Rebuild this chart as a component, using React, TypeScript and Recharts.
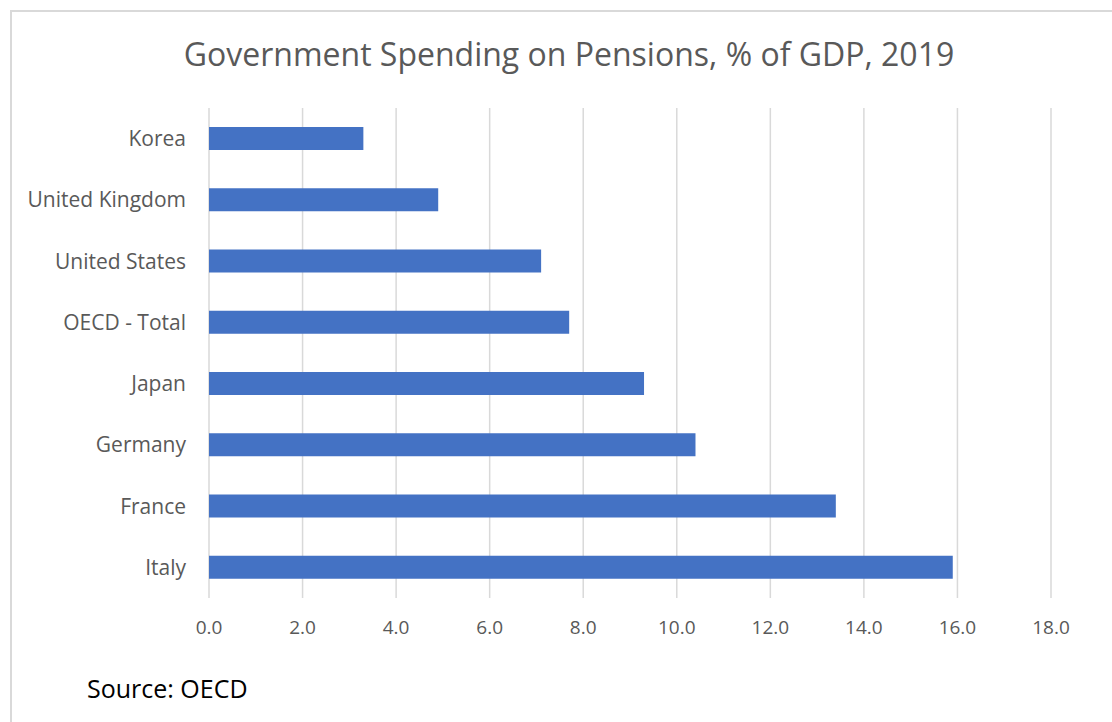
import { BarChart, Bar, XAxis, YAxis, CartesianGrid } from 'recharts';

const countries = ['Korea', 'United Kingdom', 'United States', 'OECD - Total', 'Japan', 'Germany', 'France', 'Italy'];
const spending = [3.3, 4.9, 7.1, 7.7, 9.3, 10.4, 13.4, 15.9];
const xTicks = [0, 2, 4, 6, 8, 10, 12, 14, 16, 18];

const data = countries.map((name, i) => ({ name, value: spending[i] }));

const App = () => {
  return (
    <div style={{ position: 'absolute', left: 0, top: 0, width: 1112, height: 722, background: '#fff', overflow: 'hidden' }}>
      <div style={{ position: 'absolute', left: 10, top: 10, width: 1200, height: 800, borderTop: '2px solid #d9d9d9', borderLeft: '2px solid #d9d9d9' }} />
      <div
        style={{
          position: 'absolute',
          left: 0,
          width: 1138,
          top: 32,
          textAlign: 'center',
          fontFamily: 'Open Sans, sans-serif',
          fontSize: 32,
          color: '#595959',
        }}
      >
        Government Spending on Pensions, % of GDP, 2019
      </div>
      <div style={{ position: 'absolute', left: 0, top: 0 }}>
        <BarChart
          width={1112}
          height={722}
          data={data}
          layout="vertical"
          margin={{ top: 108, right: 61, bottom: 0, left: 0 }}
        >
          <CartesianGrid horizontal={false} stroke="#d9d9d9" strokeWidth={1.5} />
          <XAxis
            type="number"
            domain={[0, 18]}
            ticks={xTicks}
            tickFormatter={(v: number) => v.toFixed(1)}
            axisLine={false}
            tickLine={false}
            tickSize={0}
            tickMargin={23}
            height={124}
            tick={{ fill: '#595959', fontSize: 19, fontFamily: 'Open Sans, sans-serif' }}
          />
          <YAxis
            type="category"
            dataKey="name"
            width={209}
            axisLine={false}
            tickLine={false}
            tickSize={0}
            tickMargin={23}
            tick={{ fill: '#595959', fontSize: 21, fontFamily: 'Open Sans, sans-serif' }}
          />
          <Bar dataKey="value" fill="#4472c4" barSize={23} isAnimationActive={false} />
        </BarChart>
      </div>
      <div
        style={{
          position: 'absolute',
          left: 87,
          top: 671,
          fontFamily: 'Open Sans, sans-serif',
          fontSize: 25,
          color: '#000',
        }}
      >
        Source: OECD
      </div>
    </div>
  );
};

export default App;
